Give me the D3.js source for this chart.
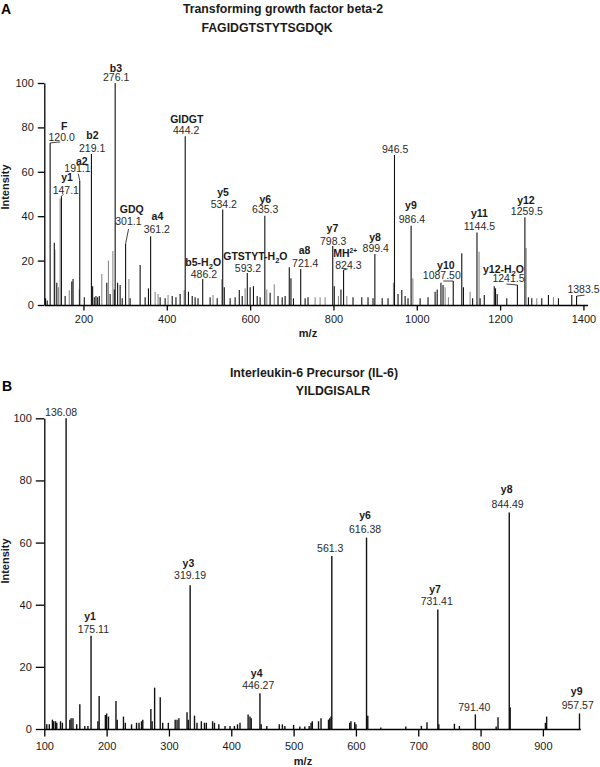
<!DOCTYPE html>
<html><head><meta charset="utf-8">
<script src="https://cdn.jsdelivr.net/npm/d3@7"></script>
<style>
body{margin:0;background:#fff}
svg{display:block;font-family:"Liberation Sans",Arial,Helvetica,sans-serif}
</style>
</head><body>
<svg id="chart" width="600" height="767"></svg>
<script>
// ---------------- DATA ----------------
const panelLetters = ["A", "B"];
const titleA = ["Transforming growth factor beta-2", "FAGIDGTSTYTSGDQK"];
const titleB = ["Interleukin-6 Precursor (IL-6)", "YILDGISALR"];
const xTicksA = [200, 400, 600, 800, 1000, 1200, 1400];
const xTicksB = [100, 200, 300, 400, 500, 600, 700, 800, 900];
const yTicks = [0, 20, 40, 60, 80, 100];
const xLabel = "m/z";
const yLabel = "Intensity";

// labelled peaks, panel A: m/z, relative intensity, ion name, printed m/z
const labeledA = [
  {mz:120.0, I:73, ion:"F", label:"120.0"},
  {mz:147.1, I:49, ion:"y1", label:"147.1"},
  {mz:191.1, I:56, ion:"a2", label:"191.1"},
  {mz:219.1, I:68, ion:"b2", label:"219.1"},
  {mz:276.1, I:100, ion:"b3", label:"276.1"},
  {mz:301.1, I:27.5, ion:"GDQ", label:"301.1"},
  {mz:361.2, I:31, ion:"a4", label:"361.2"},
  {mz:444.2, I:76, ion:"GIDGT", label:"444.2"},
  {mz:486.2, I:11.7, ion:"b5-H_2O", label:"486.2"},
  {mz:534.2, I:43, ion:"y5", label:"534.2"},
  {mz:593.2, I:14.4, ion:"GTSTYT-H_2O", label:"593.2"},
  {mz:635.3, I:40.2, ion:"y6", label:"635.3"},
  {mz:721.4, I:16.2, ion:"a8", label:"721.4"},
  {mz:798.3, I:26.6, ion:"y7", label:"798.3"},
  {mz:824.3, I:15.8, ion:"MH^2+", label:"824.3"},
  {mz:899.4, I:23, ion:"y8", label:"899.4"},
  {mz:946.5, I:67.6, ion:"", label:"946.5"},
  {mz:986.4, I:35.7, ion:"y9", label:"986.4"},
  {mz:1087.5, I:10.8, ion:"y10", label:"1087.50"},
  {mz:1144.5, I:32.7, ion:"y11", label:"1144.5"},
  {mz:1241.5, I:9, ion:"y12-H_2O", label:"1241.5"},
  {mz:1259.5, I:39.5, ion:"y12", label:"1259.5"},
  {mz:1383.5, I:4, ion:"", label:"1383.5"}
];
// unlabelled peaks, panel A (dark)
const peaksDarkA = [
  [109,3],[113,2],[130,28],[136,10],[156,4],[172,10.6],[175,11.7],[202,3.5],[222,8.5],[226,3.5],
  [230,4],[234,3.5],[238,4],[256,10],[264,5],[274,7],[282,10],[288,9],[293,3],[312,3],[336,18],
  [348,3.5],[356,7.5],[384,3.5],[396,3],[413,4],[422,3.5],[432,5],[452,6],[461,4],[468,3.5],
  [475,3],[504,3.5],[521,3],[538,8],[552,3],[564,3.5],[574,6.8],[581,4],[600,8],[608,8.5],
  [617,4],[624,3.5],[648,5.5],[667,4],[677,3.5],[684,4],[694,17],[698,12],[704,3],[732,3],
  [739,3.5],[802,8.5],[818,7],[847,3.5],[868,3.5],[883,3.5],[895,3],[917,3],[931,3],[955,5],
  [964,6.8],[972,4],[979,3],[1008,3],[1027,3.5],[1044,6],[1049,7],[1058,10],[1063,9],[1108,23.3],
  [1112,8],[1134,3],[1152,3],[1162,4.5],[1186,8.5],[1189,7.5],[1193,5],[1216,3],[1268,3.5],
  [1276,3],[1300,3],[1316,4.5],[1340,3],[1372,4.5]
];
// unlabelled peaks, panel A (grey)
const peaksGreyA = [
  [131.5,25],[140,8],[144,48],[166,6.6],[190,7],[244,14],[260,20],[270.6,24.3],[309,11.7],
  [372,6],[379,5],[403,4.5],[441.7,6.8],[511,4.5],[532,11.6],[588,7.5],[640,7],[658,9.3],
  [756,3.5],[768,3.5],[780,3.5],[812,4],[832,4],[944,10],[990.6,12],[1068,8],[1076,3.5],
  [1128,6],[1149.5,24],[1262.5,25.7],[1288,3],[1328,3.5]
];

// labelled peaks, panel B
const labeledB = [
  {mz:135, I:100, ion:"", label:"136.08"},
  {mz:175, I:30, ion:"y1", label:"175.11"},
  {mz:334, I:46.3, ion:"y3", label:"319.19"},
  {mz:446, I:11.5, ion:"y4", label:"446.27"},
  {mz:561.3, I:55.7, ion:"", label:"561.3"},
  {mz:617, I:61.6, ion:"y6", label:"616.38"},
  {mz:731.4, I:38.5, ion:"y7", label:"731.41"},
  {mz:791.6, I:4.7, ion:"", label:"791.40"},
  {mz:846, I:69.7, ion:"y8", label:"844.49"},
  {mz:958.7, I:5, ion:"y9", label:"957.57"}
];
// unlabelled peaks, panel B
const peaksB = [
  [104,1.5],[108,1.5],[113,3],[115,2.5],[118,2.5],[120,2],[126,2.5],[129,2],[141,3],[143,3.5],
  [146,3.5],[152,1.5],[157,8],[165,1],[170,1],[186,2.5],[188,10.6],[198,4.5],[200,5],[203,4],
  [215,9],[217,3],[227,4],[230,2],[240,1.5],[248,2],[252,2],[256,2.5],[258,3],[271,6.4],[273,2.5],
  [277,13.3],[286,10.2],[290,2],[299,2],[310,3],[313,3],[316,3.5],[329,5.4],[331,3],[341,4.3],
  [345,2],[352,2.5],[357,2],[360,2],[370,2.5],[373,2],[380,1.5],[390,1],[398,1],[405,1],[410,1.5],
  [414,2],[427,4.7],[430,4],[432,3.5],[448,1.5],[457,1],[477,1.5],[482,1.5],[486,1],[500,1.3],
  [510,0.8],[518,0.8],[525,1],[528,2],[530,2.5],[540,2.5],[544,3.5],[556,3],[558,3.5],[560,4],
  [590,2],[592,2.5],[598,2.2],[600,1.5],[619,4.3],[640,0.5],[680,0.8],[705,1],[714,2.2],[733,1.5],
  [758,1.7],[766,1],[825,0.8],[828,3.8],[847.5,7],[904,2],[906,4]
];

// ---------------- LAYOUT (label nudges, px relative to peak top) ----------------
// [nameDx, nameDy, valueDx, valueDy, leaderDx, leaderDy]
const nudgeA = {
  "120.0":[14,-13,11.5,-1.5,10,-1],
  "147.1":[5.7,-15.2,4.4,-2.2,2,-2],
  "191.1":[2.1,-15.7,-2.3,-8.7,-1.5,-7],
  "219.1":[1,-15,0.7,-2],
  "276.1":[0.7,-11,1,-2.5],
  "301.1":[6.2,-30.7,2.8,-19,3,-15],
  "361.2":[6.8,-16.2,6.2,-2.9],
  "444.2":[1.6,-13.6,0.9,-1.8],
  "486.2":[0.5,-13,1.2,-1.3],
  "534.2":[0.4,-13.5,1.1,-1.2],
  "593.2":[8.1,-13,0.7,-1.3],
  "635.3":[0.4,-12.5,0.4,-2.5],
  "721.4":[3.8,-15,4.5,-1.7],
  "798.3":[-0.3,-14.3,0.4,-1],
  "824.3":[1.5,-13.3,4.8,-0.7,4,-1],
  "899.4":[0.2,-13,0.9,-1.5],
  "946.5":[0,0,0.7,-1.7],
  "986.4":[-0.2,-16.4,0.8,-2.4],
  "1087.50":[-7.4,-11.7,-11.4,-1.7,-10,0],
  "1144.5":[2.4,-15.7,2.4,-2.4],
  "1241.5":[-13.9,-11.7,-8.9,-3.3,-11,-1],
  "1259.5":[1,-13.3,2,-2.3],
  "1383.5":[0,0,6.9,-2.7,8,-1]
};
const nudgeB = {
  "136.08":[0,0,-5,-2.8],
  "175.11":[-1,-15.8,2.3,-3.1],
  "319.19":[-1.7,-17.8,0,-5.8],
  "446.27":[-3.3,-16,-1.7,-4],
  "561.3":[0,0,-1.6,-4.2],
  "616.38":[-1.5,-18.3,-1.5,-4.3],
  "731.41":[-2.8,-16.1,-1.1,-4.4],
  "791.40":[0,0,-1,-3.7],
  "844.49":[-2.6,-19.1,-1.6,-4.1],
  "957.57":[-2.8,-18.5,-1.8,-4.2]
};

// ---------------- DRAW ----------------
const svg = d3.select("#chart");
const ink = "#1a1a1a";
const FS = 10.5;

function ionText(sel, s) {
  const m = s.match(/^(.*?)([_^])(\d\+?|\d)(.*)$/);
  if (!m) { sel.text(s); return; }
  sel.append("tspan").text(m[1]);
  if (m[2] === "_") {
    sel.append("tspan").attr("font-size", FS*0.72).attr("dy", 3).text(m[3]);
    sel.append("tspan").attr("dy", -3).text(m[4]);
  } else {
    sel.append("tspan").attr("font-size", FS*0.62).attr("dy", -4).text(m[3]);
    if (m[4]) sel.append("tspan").attr("dy", 4).text(m[4]);
  }
}

function panel(cfg) {
  const g = svg.append("g");
  const x = d3.scaleLinear().domain(cfg.xDomain).range(cfg.xRange);
  const y = d3.scaleLinear().domain([0, 100]).range(cfg.yRange);

  const drawPeaks = (arr, color, w) => {
    g.append("g").selectAll("line").data(arr).join("line")
      .attr("x1", d => x(d[0])).attr("x2", d => x(d[0]))
      .attr("y1", y(0)).attr("y2", d => y(d[1]))
      .attr("stroke", color).attr("stroke-width", w);
  };
  cfg.grey && drawPeaks(cfg.grey, "#8c8c8c", cfg.lw);
  drawPeaks(cfg.dark, "#111", cfg.lw);
  drawPeaks(cfg.labeled.map(d => [d.mz, d.I]), "#111", cfg.lw);

  const fmt = d3.format("d");
  const ax = g.append("g").attr("transform", `translate(0,${y(0)})`)
    .call(d3.axisBottom(x).tickValues(cfg.xTicks).tickFormat(fmt).tickSize(cfg.tick).tickSizeOuter(0).tickPadding(cfg.xPad));
  const ay = g.append("g").attr("transform", `translate(${x(cfg.xDomain[0])},0)`)
    .call(d3.axisLeft(y).tickValues(yTicks).tickFormat(fmt).tickSize(cfg.tick + 1).tickSizeOuter(0).tickPadding(4));
  [ax, ay].forEach(a => {
    a.select(".domain").attr("stroke", "#000").attr("stroke-width", 1.3);
    a.selectAll(".tick line").attr("stroke", "#000").attr("stroke-width", 1.3);
    a.selectAll(".tick text").attr("fill", ink).attr("font-size", 11)
      .attr("font-family", '"Liberation Sans",Arial,sans-serif');
  });

  const lab = g.append("g");
  cfg.labeled.forEach(d => {
    const px = x(d.mz), py = y(d.I);
    const n = cfg.nudge[d.label] || [0, -14, 0, -2];
    if (n.length > 4) {
      lab.append("line").attr("x1", px).attr("y1", py).attr("x2", px + n[4]).attr("y2", py + n[5])
        .attr("stroke", "#111").attr("stroke-width", 0.8);
    }
    if (d.ion) {
      const t = lab.append("text").attr("x", px + n[0]).attr("y", py + n[1])
        .attr("text-anchor", "middle").attr("font-weight", "bold").attr("font-size", FS).attr("fill", ink);
      ionText(t, d.ion);
    }
    lab.append("text").attr("x", px + n[2]).attr("y", py + n[3])
      .attr("text-anchor", "middle").attr("font-size", FS).attr("fill", "#2a2a2a").text(d.label);
  });

  g.append("text").attr("x", cfg.xTitle[0]).attr("y", cfg.xTitle[1]).attr("text-anchor", "middle")
    .attr("font-weight", "bold").attr("font-size", 11).attr("fill", ink).text(xLabel);
  g.append("text").attr("transform", `translate(${cfg.yTitle[0]},${cfg.yTitle[1]}) rotate(-90)`)
    .attr("text-anchor", "middle").attr("font-weight", "bold").attr("font-size", 11).attr("fill", ink).text(yLabel);

  cfg.title.forEach((s, i) => {
    g.append("text").attr("x", cfg.titlePos[i][0]).attr("y", cfg.titlePos[i][1])
      .attr("text-anchor", "middle").attr("font-weight", "bold").attr("font-size", 12.3).attr("fill", ink).text(s);
  });
  g.append("text").attr("x", cfg.letterPos[0]).attr("y", cfg.letterPos[1])
    .attr("font-weight", "bold").attr("font-size", 14).attr("fill", "#000").text(cfg.letter);
}

panel({
  letter: panelLetters[0], letterPos: [1, 13.5],
  title: titleA, titlePos: [[283, 13], [267, 31.5]],
  xDomain: [106, 1410], xRange: [44.3, 587.6], yRange: [305, 83],
  xTicks: xTicksA, tick: 5.5, xPad: 5, lw: 1.1,
  labeled: labeledA, dark: peaksDarkA, grey: peaksGreyA, nudge: nudgeA,
  xTitle: [308, 337], yTitle: [8.5, 187]
});
panel({
  letter: panelLetters[1], letterPos: [2, 391],
  title: titleB, titlePos: [[314, 377], [333, 394.5]],
  xDomain: [100, 960], xRange: [44.3, 580.3], yRange: [729, 418.3],
  xTicks: xTicksB, tick: 7.5, xPad: 6, lw: 1.4,
  labeled: labeledB, dark: peaksB, grey: null, nudge: nudgeB,
  xTitle: [303, 765], yTitle: [8.5, 561]
});
</script>
</body></html>
